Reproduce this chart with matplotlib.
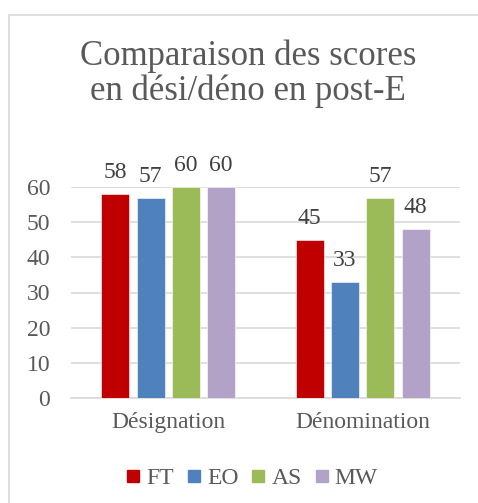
import numpy as np
from matplotlib import pyplot as plt
from matplotlib.lines import Line2D
from matplotlib.patches import Rectangle

# Données
CATEGORIES = ["Désignation", "Dénomination"]
SERIES = ["FT", "EO", "AS", "MW"]
FT = [58, 45]
EO = [57, 33]
AS = [60, 57]
MW = [60, 48]
TITLE_LINES = ["Comparaison des scores", "en dési/déno en post-E"]
Y_TICKS = [0, 10, 20, 30, 40, 50, 60]

COLORS = {
    "FT": "#C00000",
    "EO": "#4F81BD",
    "AS": "#9BBB59",
    "MW": "#B2A2C7",
}

plt.rcParams["font.family"] = "serif"
plt.rcParams["font.serif"] = ["Liberation Serif", "DejaVu Serif"]

W, H = 478, 503
fig = plt.figure(figsize=(W / 100, H / 100), dpi=100)

# Cadre du graphique (style Excel)
fig.patches.append(Rectangle((8.5 / W, -0.1), 1.2, (H - 14.5) / H + 0.1,
                             transform=fig.transFigure, fill=False,
                             edgecolor="#D9D9D9", linewidth=1.2))

left, right, top, bottom = 71, 460, 187, 398
ax = fig.add_axes([left / W, 1 - bottom / H, (right - left) / W, (bottom - top) / H])

x = np.arange(len(CATEGORIES))
step = 0.1815
width = 0.144
values = {"FT": FT, "EO": EO, "AS": AS, "MW": MW}

for i, name in enumerate(SERIES):
    pos = x + (i - 1.5) * step
    ax.bar(pos, values[name], width=width, color=COLORS[name],
           edgecolor="white", linewidth=0.4, zorder=3)
    for px, v in zip(pos, values[name]):
        ax.annotate(str(v), (px, v), xytext=(0, 11.5), textcoords="offset points",
                    ha="center", va="baseline", fontsize=17, color="#404040")

ax.set_xlim(-0.5, 1.5)
ax.set_ylim(0, 60)
ax.set_yticks(Y_TICKS)
ax.set_xticks(x)
ax.set_xticklabels(CATEGORIES)
ax.grid(axis="y", color="#D9D9D9", linewidth=1.2, zorder=0)
ax.set_axisbelow(True)
for s in ["top", "right", "left"]:
    ax.spines[s].set_visible(False)
ax.spines["bottom"].set_color("#D9D9D9")
ax.spines["bottom"].set_linewidth(1.2)
ax.tick_params(axis="y", length=0, pad=15, labelsize=17, labelcolor="#595959")
ax.tick_params(axis="x", length=0, pad=10, labelsize=17, labelcolor="#595959")

# Titre
fig.text(248 / W, 1 - 65 / H, TITLE_LINES[0], ha="center", va="baseline",
         fontsize=25, color="#595959")
fig.text(248 / W, 1 - 100 / H, TITLE_LINES[1], ha="center", va="baseline",
         fontsize=25, color="#595959")

# Légende
handles = [Line2D([], [], marker="s", linestyle="none", markersize=8.5,
                  markerfacecolor=COLORS[n], markeredgecolor=COLORS[n], label=n)
           for n in SERIES]
fig.legend(handles=handles, loc="center", bbox_to_anchor=(252 / W, 1 - 478 / H),
           ncol=4, frameon=False, fontsize=17, handlelength=0.6,
           handletextpad=0.25, columnspacing=0.55, labelcolor="#595959",
           borderaxespad=0)

fig.savefig("out.png", dpi=100)
